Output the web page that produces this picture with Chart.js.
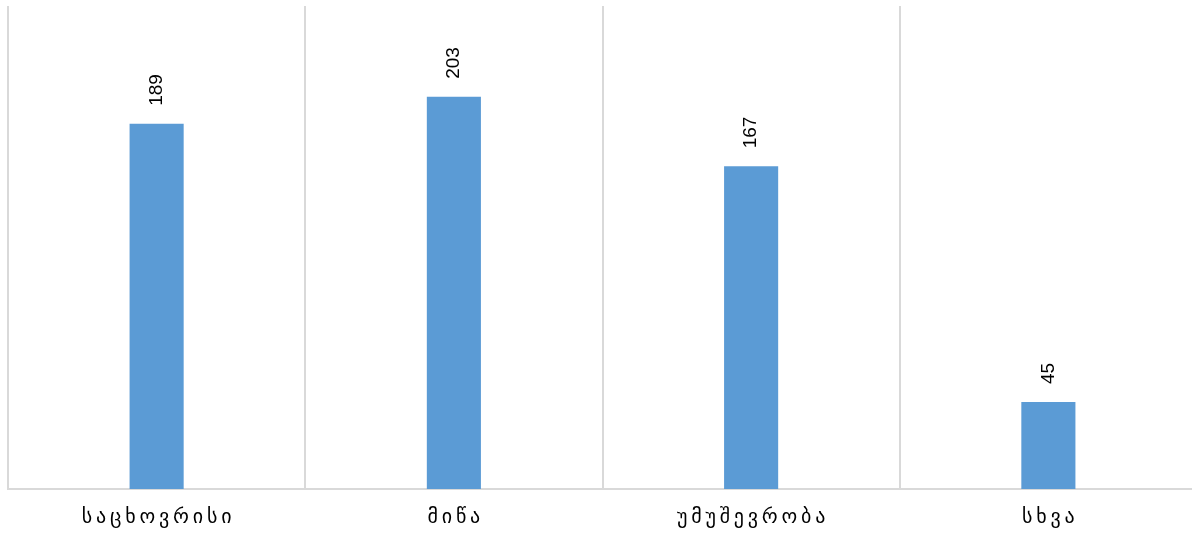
<!DOCTYPE html>
<html>
<head>
<meta charset="utf-8">
<script src="https://cdn.jsdelivr.net/npm/chart.js@4/dist/chart.umd.min.js"></script>
<style>
html,body{margin:0;padding:0;background:#fff;overflow:hidden;}
#wrap{width:1197px;height:533px;position:relative;}
</style>
</head>
<body>
<div id="wrap"><canvas id="c"></canvas></div>
<script>
const categories = ["საცხოვრისი", "მიწა", "უმუშევრობა", "სხვა"];
const values = [189, 203, 167, 45];
const yMin = 0;
const yMax = 250;

const labelPlugin = {
  id: 'labelPlugin',
  afterDraw(chart) {
    const ctx = chart.ctx;
    const xs = chart.scales.x;
    const meta = chart.getDatasetMeta(0);
    // category labels
    ctx.save();
    ctx.font = '20px "DejaVu Sans", sans-serif';
    ctx.letterSpacing = '3.8px';
    ctx.fillStyle = '#000';
    ctx.textAlign = 'left';
    ctx.textBaseline = 'middle';
    categories.forEach((c, i) => {
      const w = ctx.measureText(c).width - 3.8;
      ctx.fillText(c, xs.getPixelForValue(i) - w / 2, chart.chartArea.bottom + 29);
    });
    ctx.restore();
    // value labels
    ctx.save();
    ctx.letterSpacing = '0px';
    ctx.font = '19px "Liberation Sans", Arial, sans-serif';
    ctx.fillStyle = '#000';
    ctx.textAlign = 'left';
    ctx.textBaseline = 'middle';
    meta.data.forEach((bar, i) => {
      ctx.save();
      ctx.translate(bar.x, bar.y - 18);
      ctx.rotate(-Math.PI / 2);
      ctx.fillText(String(values[i]), 0, 0);
      ctx.restore();
    });
    ctx.restore();
  }
};

new Chart(document.getElementById('c'), {
  type: 'bar',
  data: {
    labels: categories,
    datasets: [{
      data: values,
      backgroundColor: '#5B9BD5',
      borderWidth: 0,
      categoryPercentage: 1,
      barPercentage: 0.182
    }]
  },
  options: {
    responsive: true,
    maintainAspectRatio: false,
    animation: false,
    layout: { padding: { top: 6, left: 8, right: 0, bottom: 44 } },
    plugins: { legend: { display: false }, tooltip: { enabled: false } },
    scales: {
      x: {
        grid: { display: true, color: '#d9d9d9', lineWidth: 2, drawTicks: false, offset: true },
        border: { display: true, color: '#d9d9d9', width: 2 },
        ticks: { display: false }
      },
      y: {
        display: false,
        min: yMin,
        max: yMax
      }
    }
  },
  plugins: [labelPlugin]
});
</script>
</body>
</html>
